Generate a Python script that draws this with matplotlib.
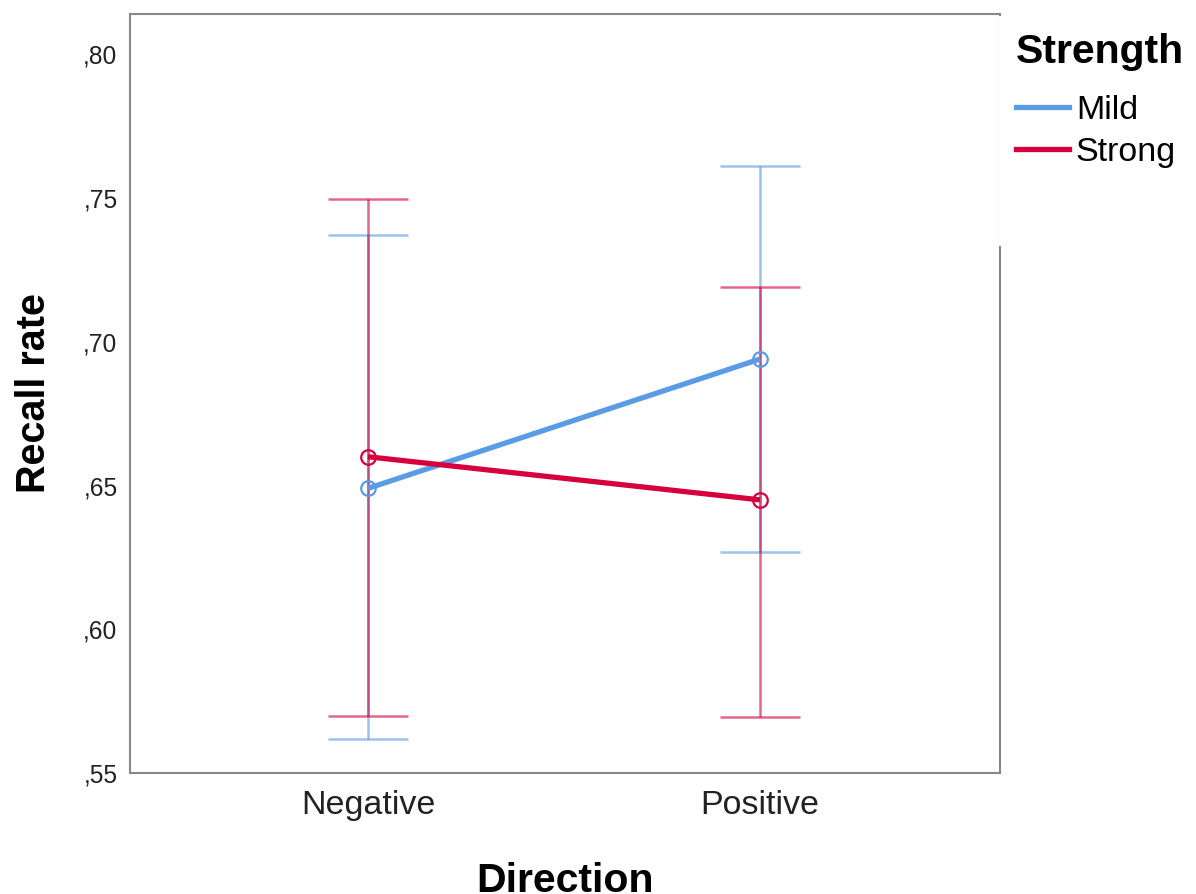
import matplotlib
matplotlib.use("Agg")
import matplotlib.pyplot as plt
from matplotlib.lines import Line2D
from matplotlib.patches import Rectangle
from matplotlib.ticker import FuncFormatter

plt.rcParams['font.family'] = ['Liberation Sans', 'DejaVu Sans']

categories = ["Negative", "Positive"]
series = ["Mild", "Strong"]
mild_mean = [0.649, 0.694]
mild_low = [0.562, 0.627]
mild_high = [0.737, 0.761]
strong_mean = [0.660, 0.645]
strong_low = [0.570, 0.5695]
strong_high = [0.7495, 0.719]
yticks = [0.55, 0.60, 0.65, 0.70, 0.75, 0.80]

colors = {"Mild": "#5A9BE6", "Strong": "#D6003C"}
data = {
    "Mild": (mild_mean, mild_low, mild_high),
    "Strong": (strong_mean, strong_low, strong_high),
}

W, H = 1196, 894
fig = plt.figure(figsize=(W / 100, H / 100), dpi=100)
ax = fig.add_axes([130 / W, 1 - 773 / H, 870 / W, 759 / H])

x = list(range(len(categories)))
for name in series:
    m, lo, hi = data[name]
    c = colors[name]
    yerr = [[mi - l for mi, l in zip(m, lo)], [h - mi for mi, h in zip(m, hi)]]
    ax.errorbar(x, m, yerr=yerr, fmt='none', ecolor=c, elinewidth=1.8,
                capsize=29, capthick=1.8, alpha=0.6, zorder=2)
    ax.plot(x, m, color=c, lw=3.8, zorder=3, solid_capstyle='butt')
    ax.plot(x, m, 'o', ms=10.5, mfc='none', mec=c, mew=1.6, zorder=4)

ax.set_xlim(-0.607, 1.612)
ax.set_ylim(0.55, 0.814)
ax.set_xticks(x)
ax.set_xticklabels(categories, fontsize=24.5, color='#222222')
ax.set_yticks(yticks)
ax.yaxis.set_major_formatter(FuncFormatter(lambda v, p: ("%.2f" % v).replace("0.", ",")))
ax.tick_params(axis='y', labelsize=17.7, length=0, pad=9, colors='#222222')
ax.tick_params(axis='x', length=0, pad=12)
for s in ax.spines.values():
    s.set_color('#888888')
    s.set_linewidth(1.5)

ax.set_ylabel("Recall rate", fontsize=28.5, fontweight='bold', labelpad=22)
ax.set_xlabel("Direction", fontsize=29.5, fontweight='bold', labelpad=30)

# white area behind legend covering the spine
fig.patches.append(Rectangle((999 / W, 1 - 246 / H), (W - 999) / W, (246 - 16) / H,
                             transform=fig.transFigure, facecolor='white',
                             edgecolor='none', zorder=5))

handles = [Line2D([], [], color=colors[n], lw=3.8) for n in series]
leg = fig.legend(handles, series, title="Strength", loc='upper left',
                 bbox_to_anchor=(999 / W, 1 - 16 / H), frameon=False,
                 fontsize=24.5, title_fontproperties={'weight': 'bold', 'size': 29.5},
                 handlelength=1.56, handletextpad=0.2, labelspacing=0.34,
                 borderpad=0.5, borderaxespad=0, alignment='left')
leg._legend_box.sep = 17
leg.set_zorder(6)

fig.savefig("out.png", dpi=100)
